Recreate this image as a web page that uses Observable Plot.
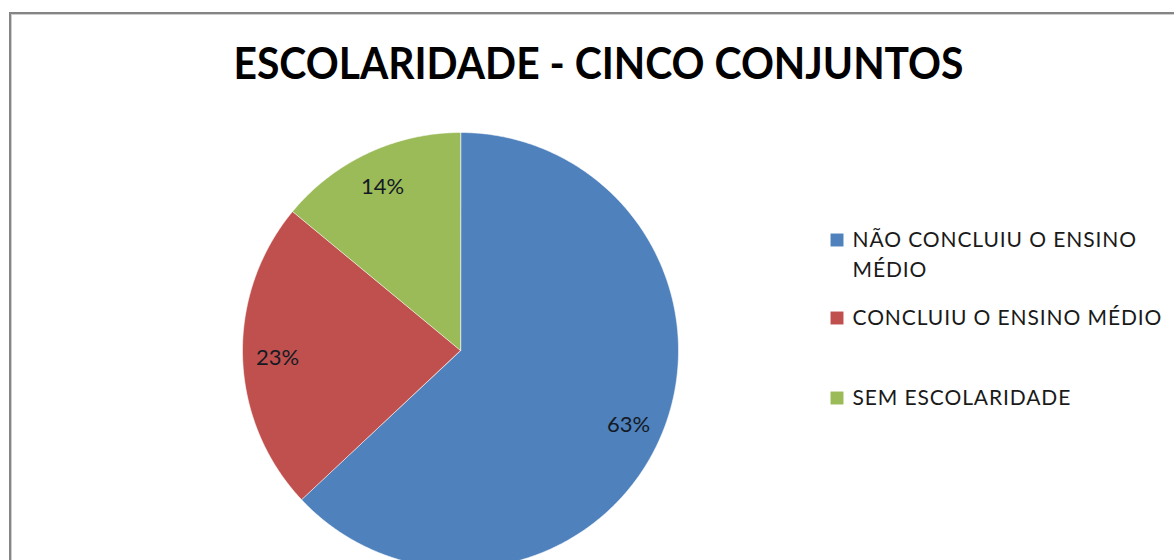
<!DOCTYPE html>
<html>
<head>
<meta charset="utf-8">
<script src="https://cdn.jsdelivr.net/npm/d3@7"></script>
<script src="https://cdn.jsdelivr.net/npm/@observablehq/plot@0.6"></script>
<style>
  body { margin: 0; background: #fff; }
  #wrap { position: relative; width: 1174px; height: 560px; overflow: hidden; background: #fff; }
  #border { position: absolute; left: 9px; top: 12px; width: 1300px; height: 700px;
            border: 2px solid #858585; box-shadow: inset 1px 1px 0 #cfcfcf; pointer-events: none; z-index: 2; }
  #chart { position: absolute; left: 0; top: 0; }
</style>
</head>
<body>
<div id="wrap"><div id="chart"></div><div id="border"></div></div>
<script>
// ---- data ----
const title = "ESCOLARIDADE - CINCO CONJUNTOS";
const categories = ["NÃO CONCLUIU O ENSINO MÉDIO", "CONCLUIU O ENSINO MÉDIO", "SEM ESCOLARIDADE"];
const legendLabels = ["NÃO CONCLUIU O ENSINO\nMÉDIO", "CONCLUIU O ENSINO MÉDIO", "SEM ESCOLARIDADE"];
const shares = [63, 23, 14];
const sliceLabels = ["63%", "23%", "14%"];
const colors = ["#4F81BD", "#C0504D", "#9BBB59"];

// ---- layout (not data) ----
const W = 1174, H = 560;
const cx = 460, cy = 350, R = 218;
const font = "Lato, 'Open Sans', sans-serif";
const titleWidth = 730;
const legendTextTop = [225, 303, 383];
const legendSwatchY = [239.5, 317.5, 397.5];

// ---- pie geometry from the data ----
const arcs = d3.pie().sort(null).value(d => d)(shares);
const slicePoints = arcs.flatMap((p, i) => {
  const pts = [{x: 0, y: 0, cat: categories[i]}];
  const n = Math.max(2, Math.ceil((p.endAngle - p.startAngle) / (Math.PI / 360)));
  for (let k = 0; k <= n; k++) {
    const a = p.startAngle + (p.endAngle - p.startAngle) * k / n;
    pts.push({x: Math.sin(a), y: Math.cos(a), cat: categories[i]});
  }
  return pts;
});
const labelPoints = arcs.map((p, i) => {
  const a = (p.startAngle + p.endAngle) / 2;
  return {x: 0.84 * Math.sin(a), y: 0.84 * Math.cos(a), text: sliceLabels[i]};
});

const legendMarks = categories.flatMap((c, i) => [
  Plot.dot([c], {frameAnchor: "top-left", dx: 836.5, dy: legendSwatchY[i], symbol: "square", r: 7.3, fill: d => d}),
  Plot.text([legendLabels[i]], {frameAnchor: "top-left", dx: 852, dy: legendTextTop[i], text: d => d,
    textAnchor: "start", lineAnchor: "top", lineHeight: 1.43, fontSize: 21, fontFamily: font, fill: "#1a1a1a"})
]);

const chart = Plot.plot({
  width: W, height: H, margin: 0,
  style: {background: "transparent"},
  x: {domain: [-1, 1], range: [cx - R, cx + R], axis: null},
  y: {domain: [-1, 1], range: [cy + R, cy - R], axis: null},
  color: {domain: categories, range: colors},
  marks: [
    Plot.line(slicePoints, {x: "x", y: "y", fill: "cat", stroke: "#ffffff", strokeOpacity: 0.55, strokeWidth: 1, curve: "linear-closed"}),
    Plot.text(labelPoints, {x: "x", y: "y", text: "text", fontSize: 22, fontFamily: font, fill: "#141a24", dy: 2}),
    Plot.text([title], {frameAnchor: "top-left", dx: 598, dy: 64, text: d => d, textAnchor: "middle",
      lineAnchor: "middle", fontSize: 44, fontWeight: 700, fontFamily: font, fill: "#000"}),
    ...legendMarks
  ]
});
document.getElementById("chart").appendChild(chart);

// fit the title to the reference width, and space out the legend lettering
const legendFlat = new Set(legendLabels.map(s => s.replace("\n", "")));
d3.select(chart).selectAll("text").each(function() {
  const t = this.textContent;
  if (t === title) {
    d3.select(this).attr("textLength", titleWidth).attr("lengthAdjust", "spacingAndGlyphs");
  } else if (legendFlat.has(t)) {
    d3.select(this).style("letter-spacing", "0.9px");
  }
});
</script>
</body>
</html>
